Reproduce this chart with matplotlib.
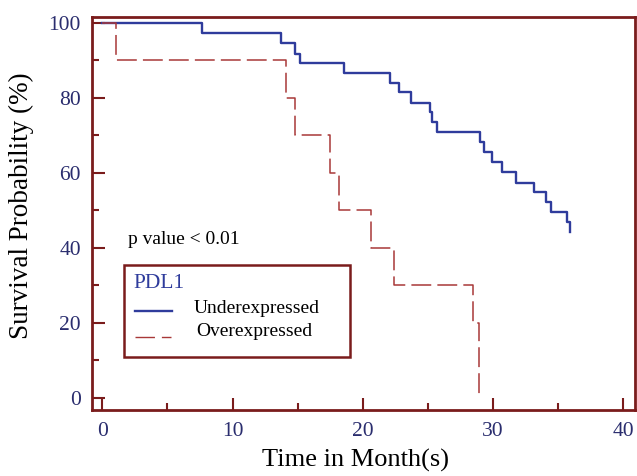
import matplotlib
matplotlib.use('Agg')
import matplotlib.pyplot as plt
from matplotlib.patches import Rectangle

# step times (months) and survival (%)
under_t = [0, 7.65, 13.76, 14.8, 15.17, 18.55, 22.1, 22.8, 23.7, 25.2, 25.3, 25.7,
           29.0, 29.3, 29.9, 30.7, 31.8, 33.2, 34.1, 34.5, 35.7, 35.9]
under_s = [100, 97.2, 94.5, 91.7, 89.2, 86.7, 84.0, 81.5, 78.7, 76.1, 73.6, 70.9,
           68.2, 65.4, 62.8, 60.1, 57.4, 54.8, 52.1, 49.5, 46.8, 44.1]
over_t = [0, 1.07, 14.1, 14.8, 17.5, 18.2, 20.6, 22.4, 28.5, 28.9]
over_s = [100, 90, 80, 70, 60, 50, 40, 30, 20, 0]

blue = '#2f3c9c'
red = '#a83838'
axcol = '#7a1c1c'
tickcol = '#2a2d6e'
serif = ['Liberation Serif', 'DejaVu Serif']

fig = plt.figure(figsize=(6.37, 4.76), dpi=100)
ax = fig.add_axes([0.1444, 0.1387, 0.852, 0.8256])

ax.step(under_t, under_s, where='post', color=blue, lw=1.7)
ax.step(over_t, over_s, where='post', color=red, lw=1.1, linestyle=(0, (13, 4)))
ax.plot([0, 0], [-3.2, 0], color=axcol, lw=1.3)

ax.set_xlim(-0.8, 40.9)
ax.set_ylim(-3.2, 101.5)
ax.set_xticks([0, 10, 20, 30, 40])
ax.set_xticks(range(5, 40, 10), minor=True)
ax.set_yticks([0, 20, 40, 60, 80, 100])
ax.set_yticks(range(10, 100, 20), minor=True)
ax.tick_params(which='both', direction='in', color=axcol, width=1.5,
               labelcolor=tickcol, labelsize=15.5)
ax.tick_params(which='major', length=9)
ax.tick_params(which='minor', length=5)
ax.tick_params(axis='x', pad=9)
ax.tick_params(axis='y', pad=8)
for lab in ax.get_xticklabels() + ax.get_yticklabels():
    lab.set_family(serif)
for sp in ax.spines.values():
    sp.set_color(axcol)
    sp.set_linewidth(2)

ax.set_xlabel('Time in Month(s)', fontsize=19, family=serif)
ax.set_ylabel('Survival Probability (%)', fontsize=19.5, family=serif)
ax.xaxis.set_label_coords(0.485, -0.1)
ax.yaxis.set_label_coords(-0.107, 0.52)

ax.text(0.066, 0.435, 'p value < 0.01', transform=ax.transAxes, fontsize=14,
        family=serif, va='center')

# legend box
ax.add_patch(Rectangle((0.0588, 0.135), 0.4172, 0.235, transform=ax.transAxes,
                       fill=False, edgecolor=axcol, lw=1.8))
ax.text(0.077, 0.321, 'PDL1', transform=ax.transAxes, color=blue, fontsize=15.5,
        family=serif, va='center')
ax.plot([0.079, 0.147], [0.252, 0.252], transform=ax.transAxes, color=blue, lw=1.7)
ax.plot([0.079, 0.145], [0.186, 0.186], transform=ax.transAxes, color=red, lw=1.0,
        linestyle=(0, (14, 5)))
ax.text(0.1875, 0.258, 'Underexpressed', transform=ax.transAxes, fontsize=14,
        family=serif, va='center')
ax.text(0.192, 0.199, 'Overexpressed', transform=ax.transAxes, fontsize=14,
        family=serif, va='center')

fig.savefig('out.png', dpi=100)
